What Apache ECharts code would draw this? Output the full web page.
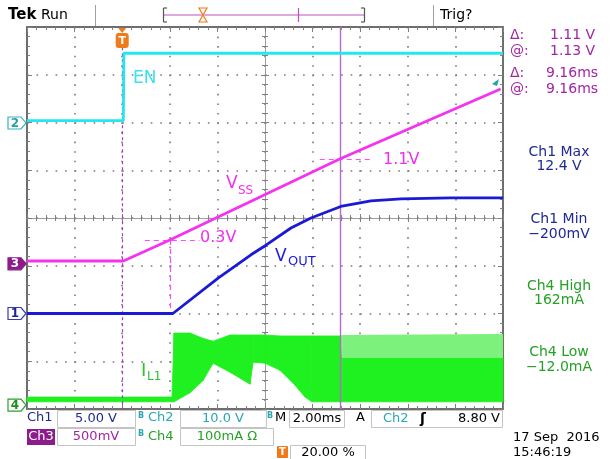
<!DOCTYPE html>
<html><head><meta charset="utf-8">
<script src="https://cdn.jsdelivr.net/npm/echarts@6/dist/echarts.min.js"></script>
<style>html,body{margin:0;padding:0;background:#fff}#c{width:613px;height:459px}</style>
</head><body><div id="c"></div>
<script>
// Time axis: ms relative to trigger (2 ms/div), vertical: screen divisions (centre = 0)
const enTime = [-4, 0.05, 0.07, 16];
const enDiv  = [2.04, 2.04, 3.45, 3.45];
const vssTime = [-4, 0.05, 2.0, 9.16, 15.9];
const vssDiv  = [-0.90, -0.90, -0.46, 1.24, 2.70];
const voutTime = [-4, 2.13, 4.03, 5.41, 6.04, 7.09, 7.93, 9.24, 10.45, 11.71, 13.82, 16];
const voutDiv  = [-2.0, -2.0, -1.26, -0.77, -0.57, -0.21, 0, 0.25, 0.36, 0.40, 0.42, 0.42];
const ilTime = [-4, 2.09, 2.18, 2.85, 3.39, 3.82, 4.53, 5.37, 5.50, 6.00, 6.63, 7.26, 7.68, 7.97, 9.15, 9.24, 15.87, 16];
const ilLow  = [-3.85, -3.85, -3.85, -3.66, -3.41, -3.04, -3.23, -3.48, -3.02, -3.04, -3.19, -3.50, -3.75, -3.85, -3.85, -3.85, -3.85, -3.85];
const ilCore = [-3.75, -3.75, -2.41, -2.41, -2.52, -2.58, -2.45, -2.45, -2.45, -2.45, -2.47, -2.47, -2.47, -2.47, -2.47, -2.93, -2.93, -2.93];
const ilHigh = [-3.75, -3.75, -2.41, -2.41, -2.52, -2.58, -2.45, -2.45, -2.45, -2.45, -2.47, -2.47, -2.47, -2.47, -2.47, -2.45, -2.43, -2.43];
const chGround = {ch1: -2.0, ch2: 1.99, ch3: -0.96, ch4: -3.92};
const cursorT = 9.16;
const vss03 = [2.0, -0.46];
const vss11 = [9.16, 1.24];

const F = 'DejaVu Sans';
const pair = (ts, vs) => ts.map((t, i) => [t, vs[i]]);
// band segments for the inductor-current envelope
const ilSegs = [];
for (let i = 0; i < ilTime.length - 1; i++) {
  ilSegs.push([ilTime[i], ilLow[i], ilCore[i], ilHigh[i], ilTime[i + 1], ilLow[i + 1], ilCore[i + 1], ilHigh[i + 1]]);
}

function ax(dim, position, offset, inside, isFrame, split) {
  const isX = dim === 'x';
  return {
    type: 'value', position: position, offset: offset,
    min: -4, max: isX ? 16 : 4, interval: isX ? 2 : 1,
    axisLine: {show: true, onZero: false, lineStyle: {color: isFrame ? '#6e6e6e' : '#9c9c9c', width: isFrame ? 2 : 1}},
    axisTick: {show: true, inside: inside, length: isFrame ? 5 : 4, lineStyle: {color: '#808080', width: 1}},
    minorTick: {show: true, splitNumber: 5, length: 3, lineStyle: {color: '#808080', width: 1}},
    axisLabel: {show: false},
    splitLine: {show: !!split, lineStyle: {color: '#7a7a7a', width: 1.6, type: isX ? [1.6, 7.95] : [1.6, 7.92]}},
    silent: true, z: 1
  };
}

const chart = echarts.init(document.getElementById('c'));
const baseLine = (name, data, color, w) => ({
  type: 'line', name: name, data: data, symbol: 'none', showSymbol: false, animation: false,
  lineStyle: {color: color, width: w}, silent: true, z: 5
});

const dashPink = {color: '#ff4cff', width: 1.2, type: [5, 4]};
chart.setOption({
  animation: false,
  backgroundColor: '#ffffff',
  grid: {left: 27, top: 27, width: 476, height: 382, show: false},
  xAxis: [
    ax('x', 'bottom', 0, true, true, true),
    ax('x', 'top', 0, true, true, false),
    ax('x', 'bottom', -191, true, false, false),
    ax('x', 'bottom', -191, false, false, false)
  ],
  yAxis: [
    ax('y', 'left', 0, true, true, true),
    ax('y', 'right', 0, true, true, false),
    ax('y', 'left', -238, true, false, false),
    ax('y', 'left', -238, false, false, false)
  ],
  series: [
    {
      type: 'custom', name: 'IL1', data: ilSegs, silent: true, z: 3,
      encode: {x: [0, 4], y: [1, 2, 3, 5, 6, 7]},
      renderItem: function (params, api) {
        const p = (a, b) => api.coord([api.value(a), api.value(b)]);
        return {type: 'group', children: [
          {type: 'polygon', shape: {points: [p(0, 1), p(4, 5), p(4, 6), p(0, 2)]},
           style: {fill: '#1ff01f', stroke: '#1ff01f', lineWidth: 0.8}},
          {type: 'polygon', shape: {points: [p(0, 2), p(4, 6), p(4, 7), p(0, 3)]},
           style: {fill: '#7cf27c', stroke: null}}
        ]};
      }
    },
    baseLine('EN', pair(enTime, enDiv), '#25e6f0', 2.8),
    Object.assign(baseLine('VSS', pair(vssTime, vssDiv), '#f532f0', 2.8), {
      markLine: {
        silent: true, symbol: 'none', animation: false, label: {show: false},
        data: [
          [{coord: [0, 3.7], lineStyle: {color: '#a040c0', width: 1.2, type: [3, 3]}}, {coord: [0, -4]}],
          [{coord: [cursorT, -4], lineStyle: {color: '#b46ccc', width: 1.4, type: 'solid'}}, {coord: [cursorT, 4]}],
          [{coord: [0.95, vss03[1]], lineStyle: dashPink}, {coord: [3.25, vss03[1]]}],
          [{coord: [vss03[0], vss03[1]], lineStyle: dashPink}, {coord: [vss03[0], chGround.ch1]}],
          [{coord: [8.3, vss11[1]], lineStyle: dashPink}, {coord: [10.5, vss11[1]]}]
        ]
      }
    }),
    baseLine('VOUT', pair(voutTime, voutDiv), '#1a1ad6', 2.8)
  ]
});

// ---------- decorations (text / markers) ----------
const g = [];
function txt(x, y, s, size, color, opt) {
  opt = opt || {};
  g.push({type: 'text', x: x, y: y, z: 100, silent: true, style: Object.assign({
    text: s, fill: color, font: (opt.bold ? 'bold ' : '') + size + 'px "' + F + '"',
    textAlign: opt.align || 'left', textVerticalAlign: 'middle'}, opt.style || {})});
}
function rect(x, y, w, h, fill, stroke) {
  g.push({type: 'rect', z: 90, silent: true, shape: {x: x, y: y, width: w, height: h},
    style: {fill: fill, stroke: stroke || null, lineWidth: 1}});
}
function line(x1, y1, x2, y2, color, w) {
  g.push({type: 'line', z: 95, silent: true, shape: {x1: x1, y1: y1, x2: x2, y2: y2},
    style: {stroke: color, lineWidth: w || 1}});
}
function poly(points, fill, stroke) {
  g.push({type: 'polygon', z: 98, silent: true, shape: {points: points},
    style: {fill: fill, stroke: stroke || null, lineWidth: 1.2}});
}

// header
txt(8, 15, 'Tek', 15, '#000', {bold: true});
txt(41, 15, 'Run', 14, '#000');
line(95.5, 5, 95.5, 26, '#a0a0a0', 1);
line(433.5, 5, 433.5, 26, '#a0a0a0', 1);
line(163, 15, 365, 15, '#c050c0', 1.2);
line(163.5, 8, 163.5, 22, '#555', 1.2); line(163.5, 8, 167, 8, '#555', 1.2); line(163.5, 22, 167, 22, '#555', 1.2);
line(364.5, 8, 364.5, 22, '#555', 1.2); line(364.5, 8, 361, 8, '#555', 1.2); line(364.5, 22, 361, 22, '#555', 1.2);
line(298.5, 8, 298.5, 22, '#c050c0', 1.2);
poly([[199, 8], [207, 8], [203, 15], [207, 22], [199, 22], [203, 15]], '#ffffff', '#f07a1a');
txt(440, 15, 'Trig?', 14, '#000');

// trigger marker
const trigX = chart.convertToPixel({xAxisIndex: 0}, 0);
poly([[trigX - 4, 28], [trigX + 4, 28], [trigX, 33]], '#f07a1a');
g.push({type: 'rect', z: 99, silent: true, shape: {x: trigX - 6.5, y: 33, width: 13, height: 15, r: 3},
  style: {fill: '#f07a1a'}});
txt(trigX, 41, 'T', 11, '#fff', {bold: true, align: 'center'});

// channel markers
function chMark(n, gnd, fill, stroke, color) {
  const y = chart.convertToPixel({yAxisIndex: 0}, gnd);
  poly([[8, y - 6], [21, y - 6], [26, y], [21, y + 6], [8, y + 6]], fill, stroke);
  txt(15, y + 0.5, String(n), 12, color, {bold: true, align: 'center'});
}
chMark(2, chGround.ch2, '#ffffff', '#38b4bc', '#2a9ea8');
chMark(3, chGround.ch3, '#8c1c8c', '#8c1c8c', '#ffffff');
chMark(1, chGround.ch1, '#ffffff', '#3a3ab0', '#22229a');
chMark(4, chGround.ch4, '#ffffff', '#2aa02a', '#1f8f1f');

// trace labels
txt(133, 79, 'EN', 17, '#3ae2f0');
txt(226, 184, 'V', 17, '#f030f0');
txt(238, 191, 'SS', 12, '#f030f0');
txt(383, 160, '1.1V', 16, '#f030f0');
txt(200, 238, '0.3V', 16, '#f030f0');
txt(275, 257, 'V', 17, '#1a1ae6');
txt(288, 262, 'OUT', 13, '#1a1ae6');
txt(141, 371, 'I', 18, '#30c030');
txt(147, 377, 'L1', 12, '#30c030');
poly([[492, 84], [499, 79], [497, 86]], '#1aa6a6');

// right readouts
const PUR = '#a424a4', NAVY = '#1e2a92', GRN = '#26a026';
txt(510, 35, 'Δ:', 14, PUR); txt(550, 35, '1.11 V', 14, PUR);
txt(510, 51, '@:', 14, PUR); txt(550, 51, '1.13 V', 14, PUR);
txt(510, 73, 'Δ:', 14, PUR); txt(546, 73, '9.16ms', 14, PUR);
txt(510, 89, '@:', 14, PUR); txt(546, 89, '9.16ms', 14, PUR);
txt(559, 152, 'Ch1 Max', 14, NAVY, {align: 'center'});
txt(559, 166, '12.4 V', 14, NAVY, {align: 'center'});
txt(559, 219, 'Ch1 Min', 14, NAVY, {align: 'center'});
txt(559, 234, '−200mV', 14, NAVY, {align: 'center'});
txt(559, 286, 'Ch4 High', 14, GRN, {align: 'center'});
txt(559, 300, '162mA', 14, GRN, {align: 'center'});
txt(559, 352, 'Ch4 Low', 14, GRN, {align: 'center'});
txt(559, 367, '−12.0mA', 14, GRN, {align: 'center'});

// bottom status rows
const TEAL = '#2aa6b4', MAG = '#a424a4', BOX = '#c4c4c4';
txt(27, 418, 'Ch1', 13, NAVY);
rect(57.5, 410.5, 78, 17, '#fff', BOX); txt(96, 419, '5.00 V', 13, NAVY, {align: 'center'});
txt(138, 416, 'B', 8, TEAL, {bold: true}); txt(148, 418, 'Ch2', 13, TEAL);
rect(180.5, 410.5, 86, 17, '#fff', BOX); txt(223, 419, '10.0 V', 13, TEAL, {align: 'center'});
txt(267, 416, 'B', 8, TEAL, {bold: true}); txt(275, 418, 'M', 13, '#000');
rect(289.5, 410.5, 55, 17, '#fff', BOX); txt(317, 419, '2.00ms', 13, '#000', {align: 'center'});
txt(356, 418, 'A', 13, '#000');
rect(371.5, 410.5, 131, 17, '#fff', BOX);
txt(383, 419, 'Ch2', 13, TEAL); txt(420, 419, 'ʃ', 14, '#000', {bold: true}); txt(500, 419, '8.80 V', 13, '#000', {align: 'right'});
rect(27, 429, 28, 16, '#8c1c8c'); txt(41, 437, 'Ch3', 13, '#fff', {align: 'center'});
rect(57.5, 428.5, 78, 17, '#fff', BOX); txt(96, 437, '500mV', 13, MAG, {align: 'center'});
txt(138, 434, 'B', 8, TEAL, {bold: true}); txt(148, 437, 'Ch4', 13, GRN);
rect(180.5, 428.5, 93, 17, '#fff', BOX); txt(227, 437, '100mA Ω', 13, GRN, {align: 'center'});
g.push({type: 'rect', z: 99, silent: true, shape: {x: 277, y: 446, width: 11, height: 12, r: 1}, style: {fill: '#f07a1a'}});
txt(282.5, 452.5, 'T', 10, '#fff', {bold: true, align: 'center'});
rect(290.5, 445.5, 75, 16, '#fff', BOX); txt(328, 453, '20.00 %', 13, '#000', {align: 'center'});
txt(513, 438, '17 Sep  2016', 13, '#000');
txt(513, 453, '15:46:19', 13, '#000');

chart.setOption({graphic: g});
</script></body></html>
